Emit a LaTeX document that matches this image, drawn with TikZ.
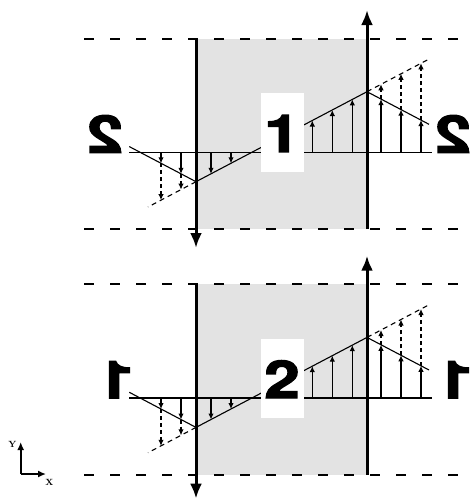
\documentclass[tikz,border=0pt]{standalone}
\usepackage{fontspec}
\usepackage{graphicx}
\usetikzlibrary{arrows.meta}
\newfontfamily\digitfont{texgyreheros-bold}[Extension=.otf, FakeBold=2.5]
\begin{document}
\begin{tikzpicture}[x=1pt,y=-1pt,
  hdash/.style={line width=2pt, dash pattern=on 10pt off 16pt},
  axisline/.style={line width=3pt},
  bigtip/.style={-{Latex[length=15pt,width=12pt]}},
  thinline/.style={line width=1.1pt},
  smallarr/.style={line width=1.1pt, -{Latex[length=6pt,width=5.5pt]}},
  dasharr/.style={line width=1.1pt, dash pattern=on 4pt off 3pt, -{Latex[length=6pt,width=5.5pt]}},
  extdash/.style={line width=1.1pt, dash pattern=on 5pt off 4pt},
  labelbox/.style={fill=white, draw=none, minimum width=43pt, minimum height=79pt, inner sep=0pt},
  digit/.style={font=\digitfont\fontsize{52}{52}\selectfont, inner sep=0pt},
  axlabel/.style={font=\bfseries\fontsize{9}{9}\selectfont, inner sep=0pt},
  coordarrow/.style={line width=2pt, -{Latex[length=8pt,width=7pt]}}
]
\useasboundingbox (0,0) rectangle (474,498);

\foreach \dy/\cn/\sn/\ve/\lx/\rx in {0/1/2/248/105/453, 245.7/2/1/253/116/455}{
\begin{scope}[yshift=-\dy pt]
  % shaded region
  \fill[gray!22] (197.5,38.7) rectangle (367,229);
  % dashed boundaries
  \coordinate (tl\cn) at (84,38.7);
  \coordinate (tr\cn) at (474,38.7);
  \coordinate (bl\cn) at (84,229);
  \coordinate (br\cn) at (474,229);
  \draw[hdash] (tl\cn) -- (tr\cn);
  \draw[hdash] (bl\cn) -- (br\cn);
  % base line
  \coordinate (BL\cn) at (129.3,152.3);
  \coordinate (BR\cn) at (432,152.3);
  \draw[thinline] (BL\cn) -- (BR\cn);
  % profile
  \coordinate (L\cn) at (129.3,146.6);
  \coordinate (V\cn) at (196,181.7);
  \coordinate (P\cn) at (367,91.7);
  \coordinate (R\cn) at (429,124.3);
  \coordinate (DL\cn) at (148,207);
  \coordinate (DR\cn) at (428,59.6);
  \draw[thinline] (L\cn) -- (V\cn) -- (P\cn) -- (R\cn);
  \draw[extdash] (V\cn) -- (DL\cn);
  \draw[extdash] (P\cn) -- (DR\cn);
  % downward arrows
  \foreach \x/\t [count=\k] in {161/163.3, 181/173.8, 211/173.8, 231/163.3}{
    \coordinate (db\cn\k) at (\x,152.3);
    \coordinate (dt\cn\k) at (\x,\t);
    \draw[smallarr] (db\cn\k) -- (dt\cn\k);
  }
  \foreach \x/\t/\e [count=\k] in {161/163.3/200.1, 181/173.8/189.6}{
    \coordinate (ds\cn\k) at (\x,\t);
    \coordinate (de\cn\k) at (\x,\e);
    \draw[dasharr] (ds\cn\k) -- (de\cn\k);
  }
  % upward arrows
  \foreach \x/\t [count=\k] in {312.3/120.5, 332.3/110.0, 352.3/99.4, 381/99.1, 401/109.6, 421/120.1}{
    \coordinate (ub\cn\k) at (\x,152.3);
    \coordinate (ut\cn\k) at (\x,\t);
    \draw[smallarr] (ub\cn\k) -- (ut\cn\k);
  }
  \foreach \x/\t/\e [count=\k] in {381/99.1/84.3, 401/109.6/73.8, 421/120.1/63.3}{
    \coordinate (us\cn\k) at (\x,\t);
    \coordinate (ue\cn\k) at (\x,\e);
    \draw[dasharr] (us\cn\k) -- (ue\cn\k);
  }
  % main vertical axes
  \coordinate (la\cn) at (196,38.7);
  \coordinate (lb\cn) at (196,\ve);
  \draw[axisline,bigtip] (la\cn) -- (lb\cn);
  \coordinate (ra\cn) at (367,229);
  \coordinate (rb\cn) at (367,10);
  \draw[axisline,bigtip] (ra\cn) -- (rb\cn);
  % labels
  \node[labelbox] (box\cn) at (282,132.3) {};
  \node[digit] (num\cn) at (282,133.5) {\scalebox{1.22}[1]{\cn}};
  \node[digit] (sl\cn) at (\lx,134) {\scalebox{-1.22}[1]{\sn}};
  \node[digit] (sr\cn) at (\rx,134) {\scalebox{-1.22}[1]{\sn}};
\end{scope}
}

% coordinate icon
\coordinate (O) at (20.7,474);
\coordinate (Ytip) at (20.7,442);
\coordinate (Xtip) at (46,474);
\draw[coordarrow] (O) -- (Ytip);
\draw[coordarrow] (O) -- (Xtip);
\node[axlabel] (ylab) at (12.5,444) {Y};
\node[axlabel] (xlab) at (49.5,482) {X};
\end{tikzpicture}
\end{document}
